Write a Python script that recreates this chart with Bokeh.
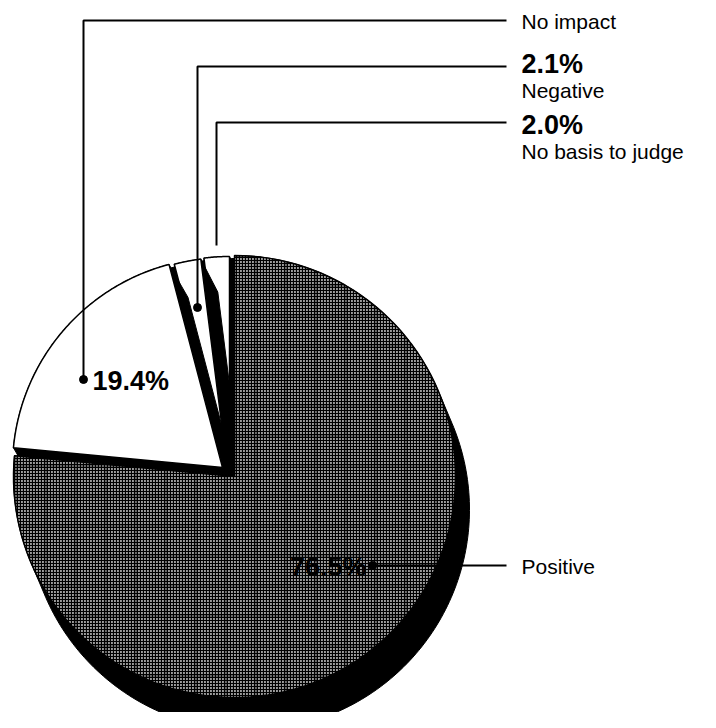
import numpy as np
from bokeh.plotting import figure
from bokeh.models import Range1d
from bokeh.embed import file_html
from bokeh.resources import INLINE
from bokeh.core.properties import value

# ---------------- data ----------------
categories = ["Positive", "No impact", "Negative", "No basis to judge"]
shares = [76.5, 19.4, 2.1, 2.0]
pct_labels = ["76.5%", "19.4%", "2.1%", "2.0%"]

# ---------------- layout / style (screen px, y down) ----------------
W, H = 700, 712
FONT = value("Liberation Sans")
vertex = {"Positive": (234, 476), "No impact": (222, 467),
          "Negative": (226, 462), "No basis to judge": (229, 460)}
radius = {"Positive": 221, "No impact": 210, "Negative": 205, "No basis to judge": 204}
depth = {"Positive": (14, 33), "No impact": (19, 33),
         "Negative": (17, 33), "No basis to judge": (17, 33)}

p = figure(width=W, height=H, x_range=Range1d(0, W), y_range=Range1d(H, 0),
           output_backend="svg", toolbar_location=None,
           x_axis_type=None, y_axis_type=None, min_border=0)
p.outline_line_color = None
p.background_fill_color = "white"


def arc_pts(cx, cy, r, a0, a1, n=120):
    t = np.radians(np.linspace(a0, a1, n))
    return cx + r * np.sin(t), cy - r * np.cos(t)


def wedge(cx, cy, r, a0, a1):
    ax, ay = arc_pts(cx, cy, r, a0, a1)
    return np.concatenate([[cx], ax]), np.concatenate([[cy], ay])


def hull(xs, ys):
    pts = sorted(set(zip(np.round(xs, 3), np.round(ys, 3))))

    def cross(o, a, b):
        return (a[0] - o[0]) * (b[1] - o[1]) - (a[1] - o[1]) * (b[0] - o[0])
    lower, upper = [], []
    for q in pts:
        while len(lower) >= 2 and cross(lower[-2], lower[-1], q) <= 0:
            lower.pop()
        lower.append(q)
    for q in reversed(pts):
        while len(upper) >= 2 and cross(upper[-2], upper[-1], q) <= 0:
            upper.pop()
        upper.append(q)
    h = lower[:-1] + upper[:-1]
    return [a for a, b in h], [b for a, b in h]


def extrusion(cx, cy, r, a0, a1, d):
    nseg = int(np.ceil((a1 - a0) / 150.0))
    edges = np.linspace(a0, a1, nseg + 1)
    for b0, b1 in zip(edges[:-1], edges[1:]):
        wx, wy = wedge(cx, cy, r, b0, b1)
        hx, hy = hull(np.concatenate([wx, wx + d[0]]), np.concatenate([wy, wy + d[1]]))
        p.patch(hx, hy, fill_color="black", line_color="black", line_width=1)


# angles clockwise from 12 o'clock
ends = np.cumsum(shares) / 100.0 * 360.0
starts = np.concatenate([[0.0], ends[:-1]])
ang = {c: (s, e) for c, s, e in zip(categories, starts, ends)}

# dark base under the exploded slices (shows through the gaps)
pcx, pcy = vertex["Positive"]
extrusion(pcx, pcy, radius["Positive"] - 3, ang["Positive"][1], 360.0, depth["Positive"])

order = ["No basis to judge", "Negative", "No impact", "Positive"]
for c in order:
    cx, cy = vertex[c]
    r = radius[c]
    a0, a1 = ang[c]
    extrusion(cx, cy, r, a0, a1, depth[c])
    wx, wy = wedge(cx, cy, r, a0, a1)
    if c == "Positive":
        p.patch(wx, wy, fill_color="#9c9c9c", hatch_pattern="cross", hatch_color="black",
                hatch_scale=3, hatch_weight=1.2, line_color="black", line_width=1.5)
        p.patch(wx, wy, fill_alpha=0, hatch_pattern="cross", hatch_color="black",
                hatch_alpha=0.3, hatch_scale=30, hatch_weight=2.5, line_color=None)
    else:
        p.patch(wx, wy, fill_color="white", line_color="black", line_width=1.5)

# ---------------- leaders ----------------
LBL_X = 521
lead_end = 506
leaders = {
    "No impact": ([83, 83, lead_end], [379, 20, 20], True),
    "Negative": ([197, 197, lead_end], [307, 66, 66], True),
    "No basis to judge": ([216, 216, lead_end], [245, 122, 122], False),
    "Positive": ([372, lead_end], [565, 565], True),
}
for c, (lx, ly, dot) in leaders.items():
    p.line(lx, ly, line_color="black", line_width=2)
    if dot:
        p.scatter([lx[0]], [ly[0]], size=8, fill_color="black", line_color="black")

# ---------------- texts ----------------
reg = dict(text_font=FONT, text_font_size="21px", text_baseline="middle",
           text_align="left", text_color="black")
bold = dict(text_font=FONT, text_font_size="27px", text_font_style="bold",
            text_baseline="middle", text_color="black")

p.text(x=[LBL_X], y=[21], text=[categories[1]], **reg)
p.text(x=[LBL_X], y=[63], text=[pct_labels[2]], text_align="left", **bold)
p.text(x=[LBL_X], y=[90], text=[categories[2]], **reg)
p.text(x=[LBL_X], y=[124], text=[pct_labels[3]], text_align="left", **bold)
p.text(x=[LBL_X], y=[151], text=[categories[3]], **reg)
p.text(x=[LBL_X], y=[566], text=[categories[0]], **reg)
p.text(x=[92], y=[380], text=[pct_labels[1]], text_align="left", **bold)
p.text(x=[366], y=[566], text=[pct_labels[0]], text_align="right", **bold)

open("out.html", "w").write(file_html(p, INLINE))
